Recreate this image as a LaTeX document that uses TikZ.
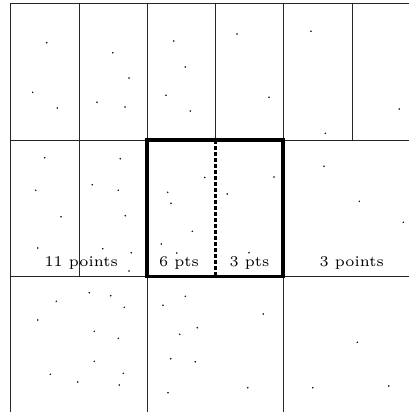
\documentclass[tikz,border=0pt]{standalone}
\begin{document}
\begin{tikzpicture}[x=0.75pt,y=-0.75pt,
  gridline/.style={line width=0.6pt,black!85},
  thickbox/.style={line width=2.7pt,black},
  splitline/.style={line width=2.6pt,black,dash pattern=on 3.3pt off 1.2pt},
  lbl/.style={anchor=base,inner sep=0pt,scale=1.86,font=\fontsize{6}{7}\selectfont},
  dot/.style={fill=black}]
\useasboundingbox (0,0) rectangle (409,412);
% horizontal lines
\draw[gridline] (10.7,3.3) -- (409,3.3);
\draw[gridline] (10.7,140) -- (409,140);
\draw[gridline] (10.7,276.3) -- (409,276.3);
% left border
\draw[gridline] (10.7,3.3) -- (10.7,412);
% top row verticals
\foreach \x in {79,147,215.3,283.3,352} \draw[gridline] (\x,3.3) -- (\x,140);
% middle row
\draw[gridline] (79,140) -- (79,276.3);
% bottom row
\draw[gridline] (147,276.3) -- (147,412);
\draw[gridline] (283.3,276.3) -- (283.3,412);
% dashed split and thick box
\draw[splitline] (215.3,140) -- (215.3,276.3);
\draw[thickbox] (147,140) rectangle (283.3,276.3);
% labels
\node[lbl] (l1) at (81.2,266.7) {11 points};
\node[lbl] (l2) at (179,266.7) {6 pts};
\node[lbl] (l3) at (249.5,266.7) {3 pts};
\node[lbl] (l4) at (351.7,266.7) {3 points};
% dots
\foreach \p in {(46.7,42.7),(32.7,92.3),(57.3,108),(112.7,52.7),(129,78),(97,102.3),(125,107),(173.7,41),(185.3,67),(166,95.3),(190.3,111),(237,34),(269,97.3),(311,31.3),(325.3,133.3),(399.3,109),
(44.7,157.7),(35.7,190.3),(61,216.7),(37.7,248),(120.3,158.7),(92.3,184.7),(118.3,190.3),(125.3,215.7),(102.7,248.7),(131.3,252.7),(129,271),(167.7,192.3),(171,203.3),(192.3,231.3),(161.3,244),(176.7,253),(204.7,177.5),(274,177),(227.3,194),(249,252.7),(324,166.3),(359.3,201.3),(403.3,222.3),
(89.3,292.7),(110.7,295.7),(56.3,301.3),(124.3,307.3),(37.7,320),(94.3,331.3),(118.3,338.3),(94.3,361.3),(50.3,374.3),(123.3,373.3),(77.7,382),(119.3,385),(185.3,296.3),(163,305.3),(197.3,327.7),(179.7,334.3),(170.7,358.7),(195.3,361.7),(168,392.7),(263.3,314),(247.7,387.7),(357.3,342.3),(312.7,387.7),(388.7,386)}
  \fill[dot] \p circle[radius=0.85];
\end{tikzpicture}
\end{document}
